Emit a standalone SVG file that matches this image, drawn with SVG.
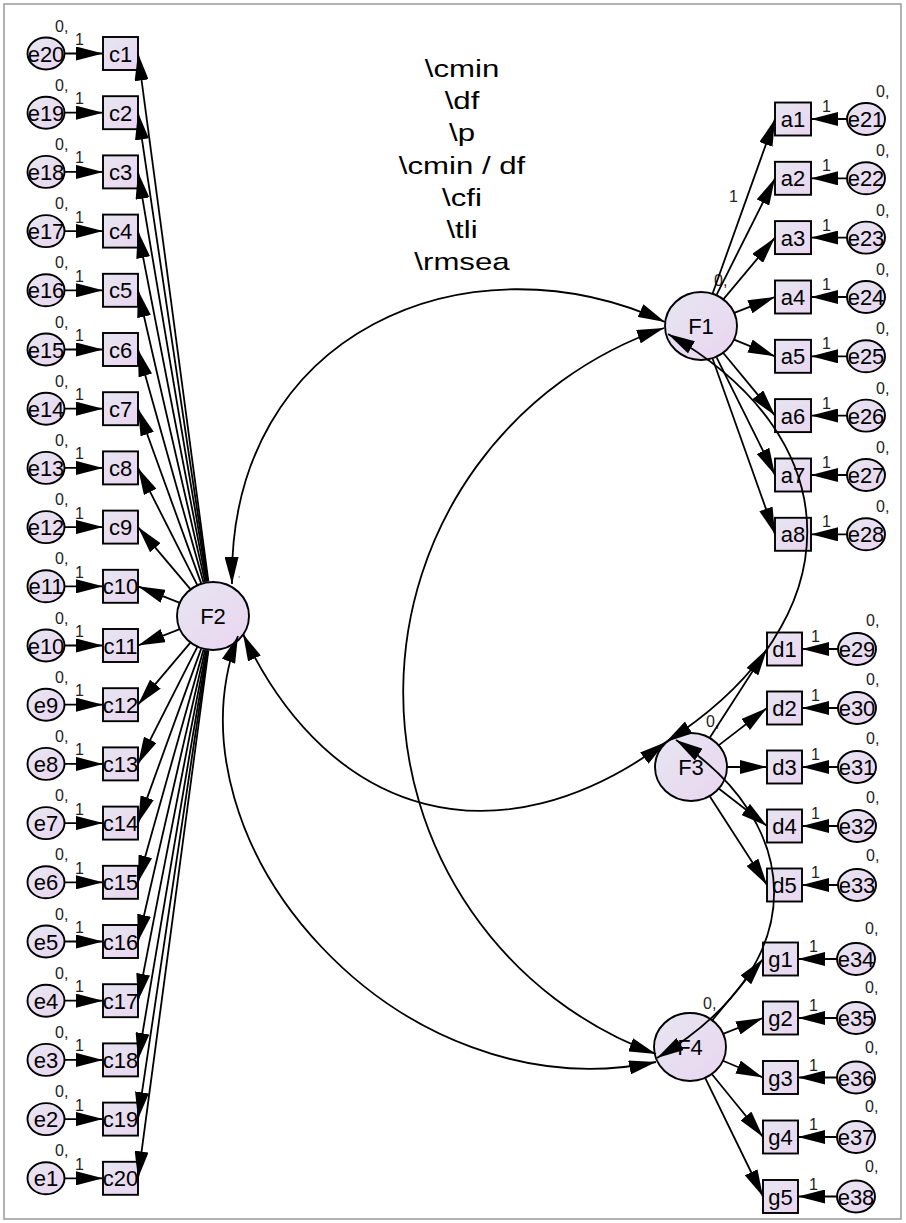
<svg xmlns="http://www.w3.org/2000/svg" width="906" height="1223" viewBox="0 0 906 1223">
<defs>
<linearGradient id="g" x1="0" y1="0" x2="1" y2="1"><stop offset="0" stop-color="#e6e6f1"/><stop offset="1" stop-color="#ead5f0"/></linearGradient>
<marker id="ah" markerUnits="userSpaceOnUse" markerWidth="27" markerHeight="14" viewBox="0 0 27 14" refX="27" refY="7" orient="auto"><path d="M0,0 L27,7 L0,14 z" fill="#000"/></marker>
<marker id="ah2" markerUnits="userSpaceOnUse" markerWidth="27" markerHeight="14" viewBox="0 0 27 14" refX="27" refY="7" orient="auto-start-reverse"><path d="M0,0 L27,7 L0,14 z" fill="#000"/></marker>
<style>
rect,ellipse{fill:url(#g);stroke:#000;stroke-width:1.9}
text{font-family:"Liberation Sans",Arial,sans-serif;fill:#000}
.l{font-size:22px;text-anchor:middle}
.s{font-size:16px;fill:#222}
.t{font-size:24px;text-anchor:middle}
.ln{stroke:#000;stroke-width:1.8;fill:none;marker-end:url(#ah)}
.cv{stroke:#000;stroke-width:1.8;fill:none;marker-start:url(#ah2);marker-end:url(#ah2)}
</style>
</defs>
<rect x="4" y="4" width="897" height="1215" style="fill:#fff;stroke:#999;stroke-width:1.5"/>
<g id="fit">
<text class="t" transform="translate(462,77) scale(1.3,1)">\cmin</text>
<text class="t" transform="translate(462,109) scale(1.3,1)">\df</text>
<text class="t" transform="translate(462,141) scale(1.3,1)">\p</text>
<text class="t" transform="translate(462,173.5) scale(1.3,1)">\cmin / df</text>
<text class="t" transform="translate(462,205.5) scale(1.3,1)">\cfi</text>
<text class="t" transform="translate(462,238) scale(1.3,1)">\tli</text>
<text class="t" transform="translate(462,270) scale(1.3,1)">\rmsea</text>
</g>
<g id="F1"><ellipse cx="701" cy="326" rx="36" ry="34"/><text class="l" x="701" y="334">F1</text><text class="s" x="714" y="286">0,</text></g>
<g id="F2"><ellipse cx="213" cy="616" rx="36" ry="34"/><text class="l" x="213" y="624">F2</text><text class="s" x="238" y="577" style="font-size:8px">,</text></g>
<g id="F3"><ellipse cx="691" cy="767" rx="36" ry="34"/><text class="l" x="691" y="775">F3</text><text class="s" x="706" y="727">0,</text></g>
<g id="F4"><ellipse cx="690" cy="1047" rx="36" ry="34"/><text class="l" x="690" y="1055">F4</text><text class="s" x="703" y="1009">0,</text></g>
<g id="c1"><rect x="103" y="37" width="35" height="33"/><text class="l" x="120.5" y="61.5">c1</text></g>
<g id="c2"><rect x="103" y="96.2" width="35" height="33"/><text class="l" x="120.5" y="120.7">c2</text></g>
<g id="c3"><rect x="103" y="155.4" width="35" height="33"/><text class="l" x="120.5" y="179.9">c3</text></g>
<g id="c4"><rect x="103" y="214.6" width="35" height="33"/><text class="l" x="120.5" y="239.1">c4</text></g>
<g id="c5"><rect x="103" y="273.8" width="35" height="33"/><text class="l" x="120.5" y="298.3">c5</text></g>
<g id="c6"><rect x="103" y="333" width="35" height="33"/><text class="l" x="120.5" y="357.5">c6</text></g>
<g id="c7"><rect x="103" y="392.2" width="35" height="33"/><text class="l" x="120.5" y="416.7">c7</text></g>
<g id="c8"><rect x="103" y="451.4" width="35" height="33"/><text class="l" x="120.5" y="475.9">c8</text></g>
<g id="c9"><rect x="103" y="510.6" width="35" height="33"/><text class="l" x="120.5" y="535.1">c9</text></g>
<g id="c10"><rect x="103" y="569.8" width="35" height="33"/><text class="l" x="120.5" y="594.3">c10</text></g>
<g id="c11"><rect x="103" y="629" width="35" height="33"/><text class="l" x="120.5" y="653.5">c11</text></g>
<g id="c12"><rect x="103" y="688.2" width="35" height="33"/><text class="l" x="120.5" y="712.7">c12</text></g>
<g id="c13"><rect x="103" y="747.4" width="35" height="33"/><text class="l" x="120.5" y="771.9">c13</text></g>
<g id="c14"><rect x="103" y="806.6" width="35" height="33"/><text class="l" x="120.5" y="831.1">c14</text></g>
<g id="c15"><rect x="103" y="865.8" width="35" height="33"/><text class="l" x="120.5" y="890.3">c15</text></g>
<g id="c16"><rect x="103" y="925" width="35" height="33"/><text class="l" x="120.5" y="949.5">c16</text></g>
<g id="c17"><rect x="103" y="984.2" width="35" height="33"/><text class="l" x="120.5" y="1008.7">c17</text></g>
<g id="c18"><rect x="103" y="1043.4" width="35" height="33"/><text class="l" x="120.5" y="1067.9">c18</text></g>
<g id="c19"><rect x="103" y="1102.6" width="35" height="33"/><text class="l" x="120.5" y="1127.1">c19</text></g>
<g id="c20"><rect x="103" y="1161.8" width="35" height="33"/><text class="l" x="120.5" y="1186.3">c20</text></g>
<g id="e20"><ellipse cx="46" cy="53.5" rx="18.5" ry="16"/><text class="l" x="46" y="61.5">e20</text><text class="s" x="55" y="31.5">0,</text><text class="s" x="75" y="45">1</text></g>
<g id="e19"><ellipse cx="46" cy="112.7" rx="18.5" ry="16"/><text class="l" x="46" y="120.7">e19</text><text class="s" x="55" y="90.7">0,</text><text class="s" x="75" y="104.2">1</text></g>
<g id="e18"><ellipse cx="46" cy="171.9" rx="18.5" ry="16"/><text class="l" x="46" y="179.9">e18</text><text class="s" x="55" y="149.9">0,</text><text class="s" x="75" y="163.4">1</text></g>
<g id="e17"><ellipse cx="46" cy="231.1" rx="18.5" ry="16"/><text class="l" x="46" y="239.1">e17</text><text class="s" x="55" y="209.1">0,</text><text class="s" x="75" y="222.6">1</text></g>
<g id="e16"><ellipse cx="46" cy="290.3" rx="18.5" ry="16"/><text class="l" x="46" y="298.3">e16</text><text class="s" x="55" y="268.3">0,</text><text class="s" x="75" y="281.8">1</text></g>
<g id="e15"><ellipse cx="46" cy="349.5" rx="18.5" ry="16"/><text class="l" x="46" y="357.5">e15</text><text class="s" x="55" y="327.5">0,</text><text class="s" x="75" y="341">1</text></g>
<g id="e14"><ellipse cx="46" cy="408.7" rx="18.5" ry="16"/><text class="l" x="46" y="416.7">e14</text><text class="s" x="55" y="386.7">0,</text><text class="s" x="75" y="400.2">1</text></g>
<g id="e13"><ellipse cx="46" cy="467.9" rx="18.5" ry="16"/><text class="l" x="46" y="475.9">e13</text><text class="s" x="55" y="445.9">0,</text><text class="s" x="75" y="459.4">1</text></g>
<g id="e12"><ellipse cx="46" cy="527.1" rx="18.5" ry="16"/><text class="l" x="46" y="535.1">e12</text><text class="s" x="55" y="505.1">0,</text><text class="s" x="75" y="518.6">1</text></g>
<g id="e11"><ellipse cx="46" cy="586.3" rx="18.5" ry="16"/><text class="l" x="46" y="594.3">e11</text><text class="s" x="55" y="564.3">0,</text><text class="s" x="75" y="577.8">1</text></g>
<g id="e10"><ellipse cx="46" cy="645.5" rx="18.5" ry="16"/><text class="l" x="46" y="653.5">e10</text><text class="s" x="55" y="623.5">0,</text><text class="s" x="75" y="637">1</text></g>
<g id="e9"><ellipse cx="46" cy="704.7" rx="18.5" ry="16"/><text class="l" x="46" y="712.7">e9</text><text class="s" x="55" y="682.7">0,</text><text class="s" x="75" y="696.2">1</text></g>
<g id="e8"><ellipse cx="46" cy="763.9" rx="18.5" ry="16"/><text class="l" x="46" y="771.9">e8</text><text class="s" x="55" y="741.9">0,</text><text class="s" x="75" y="755.4">1</text></g>
<g id="e7"><ellipse cx="46" cy="823.1" rx="18.5" ry="16"/><text class="l" x="46" y="831.1">e7</text><text class="s" x="55" y="801.1">0,</text><text class="s" x="75" y="814.6">1</text></g>
<g id="e6"><ellipse cx="46" cy="882.3" rx="18.5" ry="16"/><text class="l" x="46" y="890.3">e6</text><text class="s" x="55" y="860.3">0,</text><text class="s" x="75" y="873.8">1</text></g>
<g id="e5"><ellipse cx="46" cy="941.5" rx="18.5" ry="16"/><text class="l" x="46" y="949.5">e5</text><text class="s" x="55" y="919.5">0,</text><text class="s" x="75" y="933">1</text></g>
<g id="e4"><ellipse cx="46" cy="1000.7" rx="18.5" ry="16"/><text class="l" x="46" y="1008.7">e4</text><text class="s" x="55" y="978.7">0,</text><text class="s" x="75" y="992.2">1</text></g>
<g id="e3"><ellipse cx="46" cy="1059.9" rx="18.5" ry="16"/><text class="l" x="46" y="1067.9">e3</text><text class="s" x="55" y="1037.9">0,</text><text class="s" x="75" y="1051.4">1</text></g>
<g id="e2"><ellipse cx="46" cy="1119.1" rx="18.5" ry="16"/><text class="l" x="46" y="1127.1">e2</text><text class="s" x="55" y="1097.1">0,</text><text class="s" x="75" y="1110.6">1</text></g>
<g id="e1"><ellipse cx="46" cy="1178.3" rx="18.5" ry="16"/><text class="l" x="46" y="1186.3">e1</text><text class="s" x="55" y="1156.3">0,</text><text class="s" x="75" y="1169.8">1</text></g>
<g id="a1"><rect x="775" y="102.5" width="36" height="33"/><text class="l" x="793" y="127">a1</text></g>
<g id="a2"><rect x="775" y="161.8" width="36" height="33"/><text class="l" x="793" y="186.3">a2</text></g>
<g id="a3"><rect x="775" y="221.1" width="36" height="33"/><text class="l" x="793" y="245.6">a3</text></g>
<g id="a4"><rect x="775" y="280.5" width="36" height="33"/><text class="l" x="793" y="305">a4</text></g>
<g id="a5"><rect x="775" y="339.8" width="36" height="33"/><text class="l" x="793" y="364.3">a5</text></g>
<g id="a6"><rect x="775" y="399.1" width="36" height="33"/><text class="l" x="793" y="423.6">a6</text></g>
<g id="a7"><rect x="775" y="458.5" width="36" height="33"/><text class="l" x="793" y="483">a7</text></g>
<g id="a8"><rect x="775" y="517.8" width="36" height="33"/><text class="l" x="793" y="542.3">a8</text></g>
<g id="e21"><ellipse cx="866" cy="119" rx="19" ry="16"/><text class="l" x="866" y="127">e21</text><text class="s" x="876" y="97">0,</text><text class="s" x="822" y="112">1</text></g>
<g id="e22"><ellipse cx="866" cy="178.3" rx="19" ry="16"/><text class="l" x="866" y="186.3">e22</text><text class="s" x="876" y="156.3">0,</text><text class="s" x="822" y="171.3">1</text></g>
<g id="e23"><ellipse cx="866" cy="237.6" rx="19" ry="16"/><text class="l" x="866" y="245.6">e23</text><text class="s" x="876" y="215.6">0,</text><text class="s" x="822" y="230.6">1</text></g>
<g id="e24"><ellipse cx="866" cy="297" rx="19" ry="16"/><text class="l" x="866" y="305">e24</text><text class="s" x="876" y="275">0,</text><text class="s" x="822" y="290">1</text></g>
<g id="e25"><ellipse cx="866" cy="356.3" rx="19" ry="16"/><text class="l" x="866" y="364.3">e25</text><text class="s" x="876" y="334.3">0,</text><text class="s" x="822" y="349.3">1</text></g>
<g id="e26"><ellipse cx="866" cy="415.6" rx="19" ry="16"/><text class="l" x="866" y="423.6">e26</text><text class="s" x="876" y="393.6">0,</text><text class="s" x="822" y="408.6">1</text></g>
<g id="e27"><ellipse cx="866" cy="475" rx="19" ry="16"/><text class="l" x="866" y="483">e27</text><text class="s" x="876" y="453">0,</text><text class="s" x="822" y="468">1</text></g>
<g id="e28"><ellipse cx="866" cy="534.3" rx="19" ry="16"/><text class="l" x="866" y="542.3">e28</text><text class="s" x="876" y="512.3">0,</text><text class="s" x="822" y="527.3">1</text></g>
<g id="d1"><rect x="767" y="632.5" width="35" height="33"/><text class="l" x="784.5" y="657">d1</text></g>
<g id="d2"><rect x="767" y="691.5" width="35" height="33"/><text class="l" x="784.5" y="716">d2</text></g>
<g id="d3"><rect x="767" y="750.5" width="35" height="33"/><text class="l" x="784.5" y="775">d3</text></g>
<g id="d4"><rect x="767" y="809.5" width="35" height="33"/><text class="l" x="784.5" y="834">d4</text></g>
<g id="d5"><rect x="767" y="868.5" width="35" height="33"/><text class="l" x="784.5" y="893">d5</text></g>
<g id="e29"><ellipse cx="857" cy="649" rx="19" ry="16"/><text class="l" x="857" y="657">e29</text><text class="s" x="866" y="626">0,</text><text class="s" x="811" y="642">1</text></g>
<g id="e30"><ellipse cx="857" cy="708" rx="19" ry="16"/><text class="l" x="857" y="716">e30</text><text class="s" x="866" y="685">0,</text><text class="s" x="811" y="701">1</text></g>
<g id="e31"><ellipse cx="857" cy="767" rx="19" ry="16"/><text class="l" x="857" y="775">e31</text><text class="s" x="866" y="744">0,</text><text class="s" x="811" y="760">1</text></g>
<g id="e32"><ellipse cx="857" cy="826" rx="19" ry="16"/><text class="l" x="857" y="834">e32</text><text class="s" x="866" y="803">0,</text><text class="s" x="811" y="819">1</text></g>
<g id="e33"><ellipse cx="857" cy="885" rx="19" ry="16"/><text class="l" x="857" y="893">e33</text><text class="s" x="866" y="861">0,</text><text class="s" x="811" y="878">1</text></g>
<g id="g1"><rect x="763" y="942.5" width="35" height="33"/><text class="l" x="780.5" y="967">g1</text></g>
<g id="g2"><rect x="763" y="1001.5" width="35" height="33"/><text class="l" x="780.5" y="1026">g2</text></g>
<g id="g3"><rect x="763" y="1061" width="35" height="33"/><text class="l" x="780.5" y="1085.5">g3</text></g>
<g id="g4"><rect x="763" y="1120.5" width="35" height="33"/><text class="l" x="780.5" y="1145">g4</text></g>
<g id="g5"><rect x="763" y="1180" width="35" height="33"/><text class="l" x="780.5" y="1204.5">g5</text></g>
<g id="e34"><ellipse cx="856" cy="959" rx="19" ry="16"/><text class="l" x="856" y="967">e34</text><text class="s" x="865" y="934">0,</text><text class="s" x="809" y="952">1</text></g>
<g id="e35"><ellipse cx="856" cy="1018" rx="19" ry="16"/><text class="l" x="856" y="1026">e35</text><text class="s" x="865" y="993">0,</text><text class="s" x="809" y="1011">1</text></g>
<g id="e36"><ellipse cx="856" cy="1077.5" rx="19" ry="16"/><text class="l" x="856" y="1085.5">e36</text><text class="s" x="865" y="1052.5">0,</text><text class="s" x="809" y="1070.5">1</text></g>
<g id="e37"><ellipse cx="856" cy="1137" rx="19" ry="16"/><text class="l" x="856" y="1145">e37</text><text class="s" x="865" y="1112">0,</text><text class="s" x="809" y="1130">1</text></g>
<g id="e38"><ellipse cx="856" cy="1196.5" rx="19" ry="16"/><text class="l" x="856" y="1204.5">e38</text><text class="s" x="865" y="1171.5">0,</text><text class="s" x="809" y="1189.5">1</text></g>
<g id="connectors">
<path class="ln" d="M64.5,53.5H103"/><path class="ln" d="M64.5,112.7H103"/><path class="ln" d="M64.5,171.9H103"/><path class="ln" d="M64.5,231.1H103"/><path class="ln" d="M64.5,290.3H103"/><path class="ln" d="M64.5,349.5H103"/><path class="ln" d="M64.5,408.7H103"/><path class="ln" d="M64.5,467.9H103"/><path class="ln" d="M64.5,527.1H103"/><path class="ln" d="M64.5,586.3H103"/><path class="ln" d="M64.5,645.5H103"/><path class="ln" d="M64.5,704.7H103"/><path class="ln" d="M64.5,763.9H103"/><path class="ln" d="M64.5,823.1H103"/><path class="ln" d="M64.5,882.3H103"/><path class="ln" d="M64.5,941.5H103"/><path class="ln" d="M64.5,1000.7H103"/><path class="ln" d="M64.5,1059.9H103"/><path class="ln" d="M64.5,1119.1H103"/><path class="ln" d="M64.5,1178.3H103"/>
<path class="ln" d="M208.4,581.3L138,53.5"/><path class="ln" d="M207.8,581.4L138,112.7"/><path class="ln" d="M207.2,581.5L138,171.9"/><path class="ln" d="M206.3,581.6L138,231.1"/><path class="ln" d="M205.1,581.9L138,290.3"/><path class="ln" d="M203.5,582.3L138,349.5"/><path class="ln" d="M201.1,583.1L138,408.7"/><path class="ln" d="M197.2,584.8L138,467.9"/><path class="ln" d="M190.4,589.2L138,527.1"/><path class="ln" d="M180.5,603.1L138,586.3"/><path class="ln" d="M180.4,628.8L138,645.5"/><path class="ln" d="M190.4,642.7L138,704.7"/><path class="ln" d="M197.2,647.2L138,763.9"/><path class="ln" d="M201.1,648.9L138,823.1"/><path class="ln" d="M203.5,649.7L138,882.3"/><path class="ln" d="M205.1,650.1L138,941.5"/><path class="ln" d="M206.3,650.4L138,1000.7"/><path class="ln" d="M207.2,650.5L138,1059.9"/><path class="ln" d="M207.8,650.6L138,1119.1"/><path class="ln" d="M208.4,650.7L138,1178.3"/>
<path class="ln" d="M847,119H811"/><path class="ln" d="M847,178.3H811"/><path class="ln" d="M847,237.6H811"/><path class="ln" d="M847,297H811"/><path class="ln" d="M847,356.3H811"/><path class="ln" d="M847,415.6H811"/><path class="ln" d="M847,475H811"/><path class="ln" d="M847,534.3H811"/>
<path class="ln" d="M712.8,293L775,119"/><path class="ln" d="M716.7,294.7L775,178.3"/><path class="ln" d="M723.5,299.2L775,237.6"/><path class="ln" d="M733.6,313.2L775,297"/><path class="ln" d="M733.4,339.3L775,356.3"/><path class="ln" d="M723.3,353L775,415.6"/><path class="ln" d="M716.6,357.3L775,475"/><path class="ln" d="M712.7,359L775,534.3"/>
<path class="ln" d="M838,649H802"/><path class="ln" d="M838,708H802"/><path class="ln" d="M838,767H802"/><path class="ln" d="M838,826H802"/><path class="ln" d="M838,885H802"/>
<path class="ln" d="M709.9,737.6L767,649"/><path class="ln" d="M718.6,745.4L767,708"/><path class="ln" d="M726,767H767"/><path class="ln" d="M718.7,788.5L767,826"/><path class="ln" d="M709.9,796.4L767,885"/>
<path class="ln" d="M837,959H798"/><path class="ln" d="M837,1018H798"/><path class="ln" d="M837,1077.5H798"/><path class="ln" d="M837,1137H798"/><path class="ln" d="M837,1196.5H798"/>
<path class="ln" d="M712.4,1020.1L763,959"/><path class="ln" d="M722.5,1034.1L763,1018"/><path class="ln" d="M722.3,1060.5L763,1077.5"/><path class="ln" d="M712,1074.2L763,1137"/><path class="ln" d="M705.4,1078.4L763,1196.5"/>
<path class="cv" d="M232,584C228,330 470,232 665,322"/>
<path class="cv" d="M664,328A385,385 0 0,0 656,1054"/>
<path class="cv" d="M243,634C330,820 500,865 666,742"/>
<path class="cv" d="M238,636C160,845 400,1115 656,1062"/>
<path class="cv" d="M668,334C852,438 856,620 666,742"/>
<path class="cv" d="M676,740C800,820 820,960 657,1058"/>
<text class="s" x="729" y="202">1</text>
</g>
</svg>
